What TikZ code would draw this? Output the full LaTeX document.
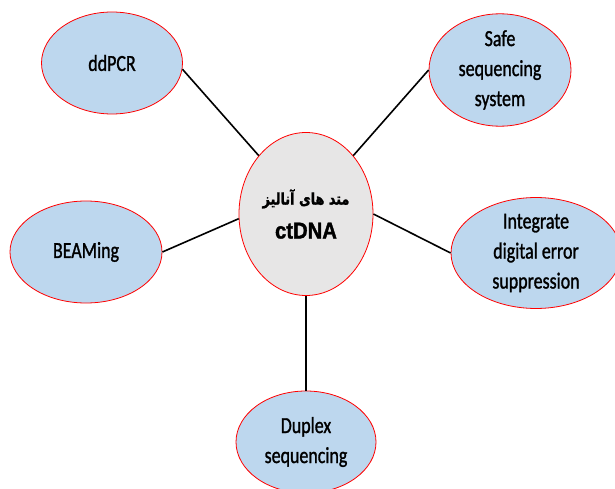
\documentclass[tikz,border=0pt]{standalone}
\usepackage{fontspec}
\setmainfont{Carlito}[FakeStretch=0.78, FakeBold=1.2]
\newfontfamily\hubfont{Liberation Sans}[FakeStretch=0.88, FakeBold=1.5]
\newfontfamily\arabicfont[Script=Arabic, FakeStretch=0.8, FakeBold=1.5]{DejaVu Sans}
\TeXXeTstate=1
\usetikzlibrary{shapes.geometric}
\definecolor{spokeblue}{HTML}{BDD7EE}
\definecolor{hubgray}{HTML}{E7E6E6}
\tikzset{
  spoke/.style={ellipse, draw=red, fill=spokeblue, line width=0.8pt, inner sep=0pt, align=center, font=\fontsize{23}{30}\selectfont},
  hub/.style={ellipse, draw=red, fill=hubgray, line width=0.8pt, inner sep=0pt, align=center, font=\fontsize{23}{34}\selectfont},
  link/.style={line width=1.6pt}
}
\begin{document}
\begin{tikzpicture}[x=1pt, y=1pt]
            \useasboundingbox (0,0) rectangle (615,488);
            \node[hub, minimum width=134, minimum height=163] (ctr) at (306,274)
                {{\arabicfont\bfseries\fontsize{16}{18}\selectfont\beginR متد های آنالیز\endR}\\{\hubfont\bfseries ctDNA}};
            \node[spoke, minimum width=141, minimum height=102] (ddpcr) at (112,425) {ddPCR};
            \node[spoke, minimum width=142, minimum height=102] (safe) at (500,418) {Safe\\sequencing\\system};
            \node[spoke, minimum width=152, minimum height=102] (beam) at (86,236) {BEAMing};
            \node[spoke, minimum width=170, minimum height=102] (integ) at (536,235) {Integrate\\digital error\\suppression};
            \node[spoke, minimum width=140, minimum height=102] (duplex) at (306,46) {Duplex\\sequencing};
            \draw[link] (ddpcr.-5) -- (ctr.129);
            \draw[link] (safe.west) -- (ctr.51);
            \draw[link] (beam.east) -- (ctr.184);
            \draw[link] (integ.west) -- (ctr.east);
            \draw[link] (duplex.north) -- (ctr.south);
\end{tikzpicture}
\end{document}
